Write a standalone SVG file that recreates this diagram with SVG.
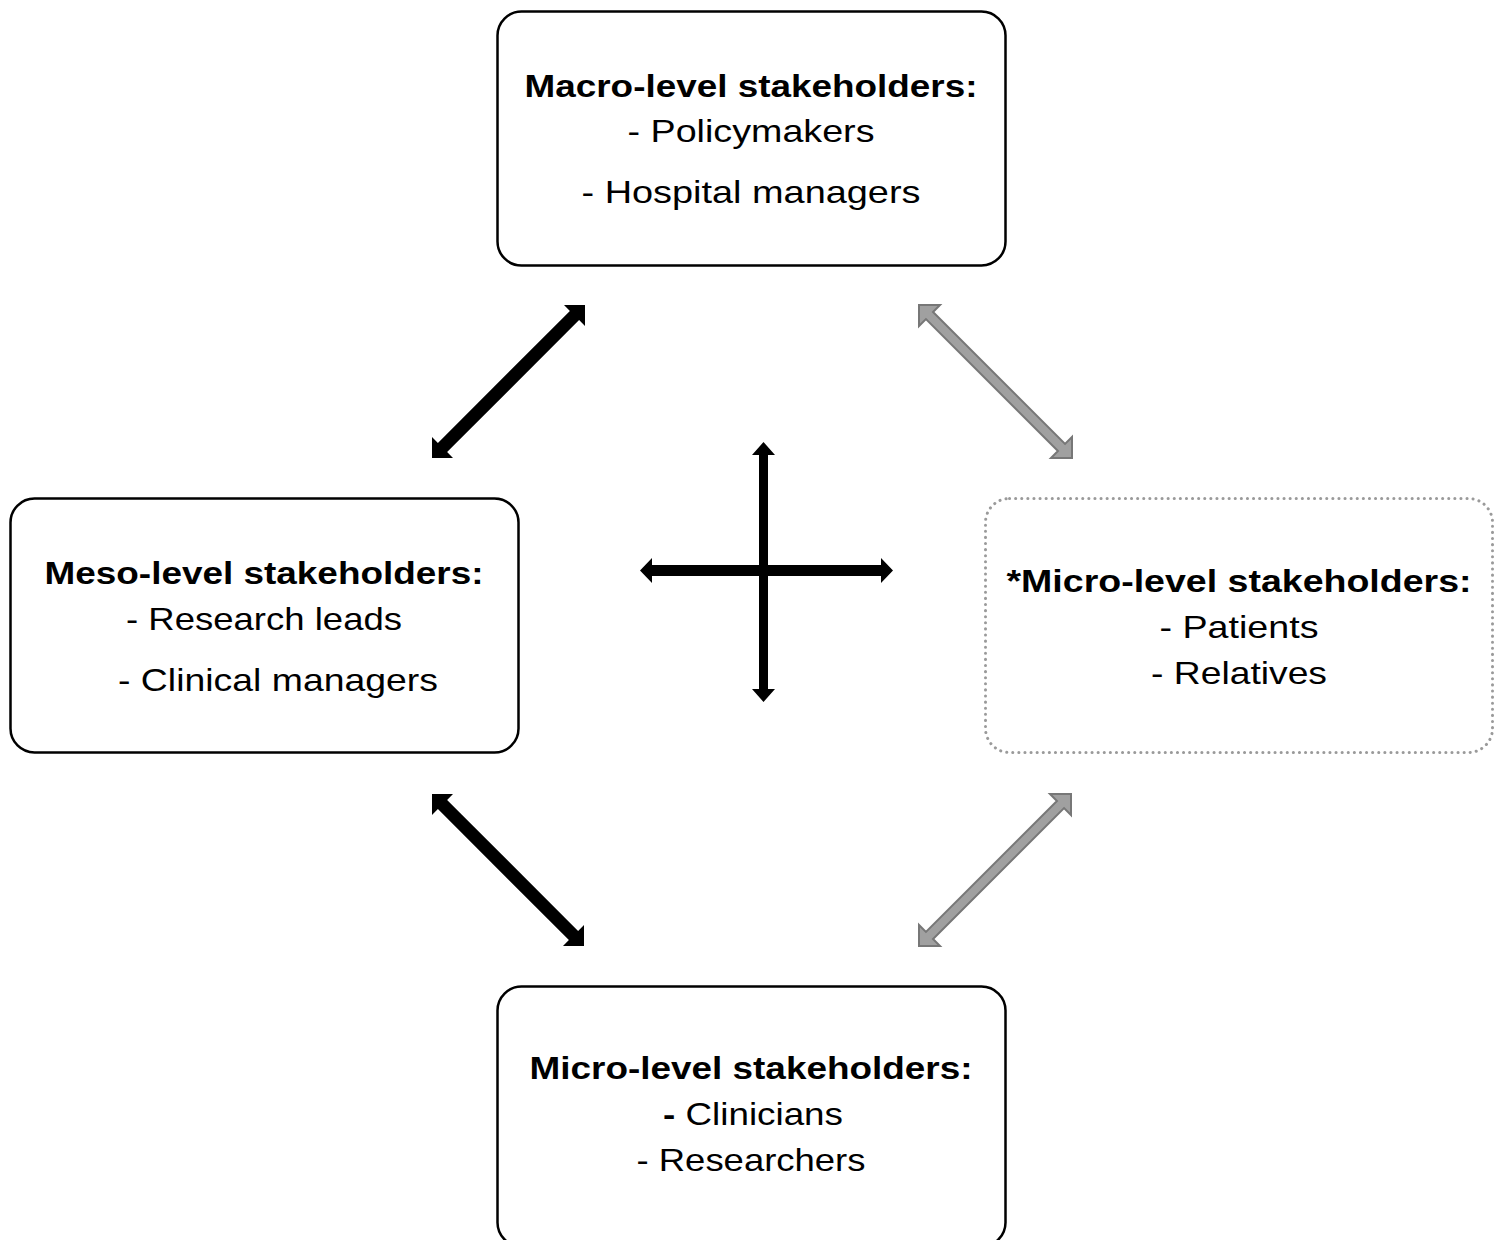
<svg xmlns="http://www.w3.org/2000/svg" width="1502" height="1240" viewBox="0 0 1502 1240">
<style>
.box{fill:#fff;stroke:#000;stroke-width:2.5}
.dot{fill:#fff;stroke:#9a9a9a;stroke-width:3;stroke-dasharray:0.1 6;stroke-linecap:round}
text{font-family:"Liberation Sans",Arial,sans-serif;font-size:32px;fill:#000;text-anchor:middle}
.b{font-weight:bold}
.blk{fill:#000}
.gry{fill:#a0a0a0;stroke:#777;stroke-width:2;stroke-linejoin:miter}
</style>
<rect width="1502" height="1240" fill="#fff"/>
<g id="macro">
<rect class="box" x="497.5" y="11.5" width="508" height="254" rx="24"/>
<text class="b" x="751" y="97" textLength="453" lengthAdjust="spacingAndGlyphs">Macro-level stakeholders:</text>
<text x="751" y="142" textLength="247" lengthAdjust="spacingAndGlyphs">- Policymakers</text>
<text x="751" y="203" textLength="339" lengthAdjust="spacingAndGlyphs">- Hospital managers</text>
</g>
<g id="meso">
<rect class="box" x="10.5" y="498.5" width="508" height="254" rx="24"/>
<text class="b" x="264" y="584" textLength="439" lengthAdjust="spacingAndGlyphs">Meso-level stakeholders:</text>
<text x="264" y="630" textLength="276" lengthAdjust="spacingAndGlyphs">- Research leads</text>
<text x="278" y="691" textLength="320" lengthAdjust="spacingAndGlyphs">- Clinical managers</text>
</g>
<g id="micro-patients">
<rect class="dot" x="985.5" y="498.5" width="507" height="254" rx="24"/>
<text class="b" x="1239" y="592" textLength="465" lengthAdjust="spacingAndGlyphs">*Micro-level stakeholders:</text>
<text x="1239" y="638" textLength="159" lengthAdjust="spacingAndGlyphs">- Patients</text>
<text x="1239" y="684" textLength="176" lengthAdjust="spacingAndGlyphs">- Relatives</text>
</g>
<g id="micro">
<rect class="box" x="497.5" y="986.5" width="508" height="260" rx="24"/>
<text class="b" x="751" y="1079" textLength="443" lengthAdjust="spacingAndGlyphs">Micro-level stakeholders:</text>
<text x="753" y="1125" textLength="180" lengthAdjust="spacingAndGlyphs"><tspan class="b">-</tspan> Clinicians</text>
<text x="751" y="1171" textLength="229" lengthAdjust="spacingAndGlyphs">- Researchers</text>
</g>
<g id="connectors">
<polygon class="blk" points="585,305 585,326 579.1,320.1 447.1,452.1 453,458 432,458 432,437 437.9,442.9 569.9,310.9 564,305"/>
<polygon class="gry" points="919,305 940,305 933.04,311.96 1065.04,443.96 1072,437 1072,458 1051,458 1057.96,451.04 925.96,319.04 919,326"/>
<polygon class="blk" points="432,794 453,794 447.1,799.9 578.1,930.9 584,925 584,946 563,946 568.9,940.1 437.9,809.1 432,815"/>
<polygon class="gry" points="1071,794 1071,815 1064.04,808.04 933.04,939.04 940,946 919,946 919,925 925.96,931.96 1056.96,800.96 1050,794"/>
<polygon class="blk" points="763.5,442 775,455 768,455 768,689 775,689 763.5,702 752,689 759,689 759,455 752,455"/>
<polygon class="blk" points="640,570.5 652,558 652,565 881,565 881,558 893,570.5 881,583 881,576 652,576 652,583"/>
</g>
</svg>
